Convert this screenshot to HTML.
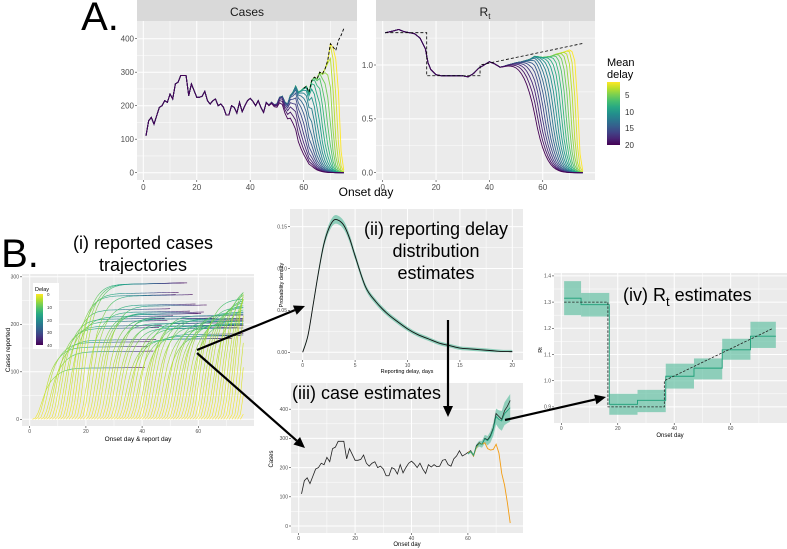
<!DOCTYPE html>
<html><head><meta charset="utf-8">
<style>
html,body{margin:0;padding:0;background:#fff;}
svg{display:block;font-family:"Liberation Sans",sans-serif;}
</style></head>
<body>
<svg id="fig" width="787" height="549" viewBox="0 0 787 549" xmlns="http://www.w3.org/2000/svg"></svg>
<script>
// ---------- data ----------
const days = [];
for (let i = 1; i <= 75; i++) days.push(i);
const trueCases = [110,155,165,145,170,195,200,215,210,235,220,265,270,290,290,290,230,265,245,225,225,228,243,215,205,215,220,200,205,195,172,172,200,195,178,210,182,200,215,222,213,200,215,195,180,210,202,210,203,205,225,228,210,205,230,240,258,240,245,252,258,240,275,285,280,300,295,310,335,385,375,365,395,410,430];
const meanDelays = [2,3,4,5,6,7,8,9,10,11,12,13,14,15,16,17,18,19,20];
const rtDays = [1,3,6,8,10,12,14,16,17,18,20,22,24,26,28,30,32,34,36,38,40,42,44,45,47,50,52,55,57,60,63,65,68,70,72,75];
const rtEst = [1.30,1.31,1.33,1.31,1.30,1.29,1.25,1.15,1.02,0.96,0.91,0.90,0.90,0.90,0.90,0.90,0.89,0.92,0.97,1.00,1.03,1.01,0.98,0.985,1.00,1.02,1.03,1.05,1.08,1.07,1.08,1.10,1.12,1.14,1.12,1.10];
const rtTrueDays = [1,16.5,16.5,36.5,36.5,75];
const rtTrue = [1.3,1.3,0.9,0.9,1.0,1.2];
const delayX = [0,0.5,1,1.5,2,2.5,3,3.5,4,4.5,5,6,7,8,9,10,11,12,13,14,15,16,17,18,19,20];
const delayPdf = [0,0.02,0.057,0.095,0.128,0.148,0.158,0.157,0.15,0.135,0.115,0.078,0.06,0.047,0.037,0.028,0.021,0.016,0.011,0.008,0.005,0.004,0.003,0.002,0.001,0.0008];
const orangeDays = [60,61,62,63,64,65,66,67,68,69,70,71,72,73,74,75];
const orangeCases = [252,255,240,268,283,280,285,265,260,262,280,250,180,140,80,10];
const estDays = [60,61,62,63,64,65,66,67,68,69,70,71,72,73,74,75];
const estMid = [248,255,242,272,282,280,298,292,305,330,375,365,360,385,395,405];
const estLo = [244,250,236,264,272,268,284,276,286,308,348,334,326,346,352,358];
const estHi = [252,260,248,280,292,292,312,308,324,352,402,396,394,424,438,452];
const stepStart = [1,7,17,27,37,47,57,67];
const stepEnd = [7,17,27,37,47,57,67,76];
const stepMid = [1.315,1.29,0.91,0.925,1.017,1.048,1.118,1.17];
const stepLo = [1.25,1.245,0.87,0.88,0.97,1.005,1.08,1.125];
const stepHi = [1.38,1.335,0.95,0.965,1.065,1.085,1.16,1.225];
const rtDashDays = [1,16.5,16.5,36.5,36.5,75];
const rtDashVals = [1.3,1.3,0.9,0.9,1.0,1.2];

// ---------- helpers ----------
const NS = "http://www.w3.org/2000/svg";
const svg = document.getElementById('fig');
function mk(tag, attrs, name, parent) {
  const e = document.createElementNS(NS, tag);
  for (const k in attrs) e.setAttribute(k, attrs[k]);
  
  
  (parent || svg).appendChild(e);
  return e;
}
function txt(x, y, s, size, name, opts) {
  opts = opts || {};
  const t = mk('text', {x: x, y: y, 'font-size': size, fill: opts.fill || '#000', 'text-anchor': opts.anchor || 'middle'}, name);
  if (opts.rot) t.setAttribute('transform', 'rotate(-90 ' + x + ' ' + y + ')');
  t.textContent = s;
  return t;
}
const VIR = [[68,1,84],[72,40,120],[62,74,137],[49,104,142],[38,130,142],[31,158,137],[53,183,121],[109,205,89],[180,222,44],[253,231,37]];
function vir(f) {
  f = Math.max(0, Math.min(1, f));
  const p = f * (VIR.length - 1), i = Math.min(VIR.length - 2, Math.floor(p)), r = p - i;
  const c = VIR[i].map((v, j) => Math.round(v + (VIR[i + 1][j] - v) * r));
  return 'rgb(' + c.join(',') + ')';
}
function Phi(z) { const t = 1 / (1 + 0.3275911 * Math.abs(z)); const y = 1 - (((((1.061405429 * t - 1.453152027) * t) + 1.421413741) * t - 0.284496736) * t + 0.254829592) * t * Math.exp(-z * z / 2); return z >= 0 ? 0.5 + y / 2 : 0.5 - y / 2; }
function F(x, d) { return Phi((x - 0.9 * d) / (0.2 * d + 0.5)); }
function panel(P, name) {
  mk('rect', {x: P.x0, y: P.y0, width: P.x1 - P.x0, height: P.y1 - P.y0, fill: '#EBEBEB'}, name + '-background');
  (P.xminor || []).forEach(v => mk('line', {x1: P.sx(v), x2: P.sx(v), y1: P.y0, y2: P.y1, stroke: '#fff', 'stroke-width': 0.5}, name + '-minor-gridline'));
  (P.yminor || []).forEach(v => mk('line', {y1: P.sy(v), y2: P.sy(v), x1: P.x0, x2: P.x1, stroke: '#fff', 'stroke-width': 0.5}, name + '-minor-gridline'));
  P.xt.forEach(v => mk('line', {x1: P.sx(v), x2: P.sx(v), y1: P.y0, y2: P.y1, stroke: '#fff', 'stroke-width': 1}, name + '-gridline'));
  P.yt.forEach(v => mk('line', {y1: P.sy(v), y2: P.sy(v), x1: P.x0, x2: P.x1, stroke: '#fff', 'stroke-width': 1}, name + '-gridline'));
  P.xt.forEach((v, i) => {
    mk('line', {x1: P.sx(v), x2: P.sx(v), y1: P.y1, y2: P.y1 + 2, stroke: '#333', 'stroke-width': 0.6}, name + '-x-tick');
    txt(P.sx(v), P.y1 + 2 + P.fs, P.xl[i], P.fs, name + '-x-tick-label', {fill: '#4d4d4d'});
  });
  P.yt.forEach((v, i) => {
    mk('line', {x1: P.x0 - 2, x2: P.x0, y1: P.sy(v), y2: P.sy(v), stroke: '#333', 'stroke-width': 0.6}, name + '-y-tick');
    txt(P.x0 - 3, P.sy(v) + P.fs * 0.35, P.yl[i], P.fs, name + '-y-tick-label', {fill: '#4d4d4d', anchor: 'end'});
  });
}
function pathD(xs, ys, sx, sy) { return xs.map((x, i) => (i ? 'L' : 'M') + sx(x).toFixed(2) + ',' + sy(ys[i]).toFixed(2)).join(''); }
function smoothD(xs, ys, sx, sy) {
  const p = xs.map((x, i) => [sx(x), sy(ys[i])]);
  let d = 'M' + p[0][0] + ',' + p[0][1];
  for (let i = 0; i < p.length - 1; i++) {
    const a = p[i - 1] || p[i], b = p[i], c = p[i + 1], e = p[i + 2] || c;
    d += 'C' + (b[0] + (c[0] - a[0]) / 6) + ',' + (b[1] + (c[1] - a[1]) / 6) + ' ' + (c[0] - (e[0] - b[0]) / 6) + ',' + (c[1] - (e[1] - b[1]) / 6) + ' ' + c[0] + ',' + c[1];
  }
  return d;
}
function interp(xs, ys, x) {
  if (x <= xs[0]) return ys[0];
  for (let i = 1; i < xs.length; i++) if (x <= xs[i]) return ys[i - 1] + (ys[i] - ys[i - 1]) * (x - xs[i - 1]) / (xs[i] - xs[i - 1]);
  return ys[ys.length - 1];
}

// ---------- A: Cases ----------
txt(100, 30, 'A.', 40, 'panel-a-label');
mk('rect', {x: 137, y: 0, width: 220, height: 21, fill: '#D9D9D9'}, 'cases-strip');
txt(247, 16, 'Cases', 12, 'cases-strip-title', {fill: '#1a1a1a'});
const PA = {x0: 137, x1: 357, y0: 21, y1: 180, sx: v => 143.3 + 2.673 * v, sy: v => 172.7 - 0.335 * v,
  xt: [0,20,40,60], xl: ['0','20','40','60'], yt: [0,100,200,300,400], yl: ['0','100','200','300','400'],
  xminor: [10,30,50,70], yminor: [50,150,250,350], fs: 8};
panel(PA, 'cases-a');
meanDelays.forEach(d => {
  const vals = days.map((t, i) => trueCases[i] * F(75 - t, d));
  mk('path', {d: pathD(days, vals, PA.sx, PA.sy), fill: 'none', stroke: vir((20 - d) / 18), 'stroke-width': 0.9}, 'cases-nowcast-line-delay-' + d);
});
const dIdx = days.indexOf(60);
mk('path', {d: pathD(days.slice(dIdx), trueCases.slice(dIdx), PA.sx, PA.sy), fill: 'none', stroke: '#000', 'stroke-width': 0.9, 'stroke-dasharray': '3,2'}, 'cases-true-dashed-line');

// ---------- A: Rt ----------
mk('rect', {x: 376, y: 0, width: 219, height: 21, fill: '#D9D9D9'}, 'rt-strip');
const rtT = txt(485, 16, 'R', 12, 'rt-strip-title', {fill: '#1a1a1a'});
const sub = document.createElementNS(NS, 'tspan'); sub.setAttribute('font-size', 8); sub.setAttribute('dy', 3); sub.textContent = 't'; rtT.appendChild(sub);
const PR = {x0: 376, x1: 595, y0: 21, y1: 180, sx: v => 382.7 + 2.667 * v, sy: v => 172.7 - 107.7 * v,
  xt: [0,20,40,60], xl: ['0','20','40','60'], yt: [0,0.5,1.0], yl: ['0.0','0.5','1.0'],
  xminor: [10,30,50,70], yminor: [0.25,0.75,1.25], fs: 8};
panel(PR, 'rt-a');
const rtDaily = days.map(t => interp(rtDays, rtEst, t));
meanDelays.forEach(d => {
  const vals = days.map((t, i) => rtDaily[i] * F(75 - t, d));
  mk('path', {d: pathD(days, vals, PR.sx, PR.sy), fill: 'none', stroke: vir((20 - d) / 18), 'stroke-width': 0.9}, 'rt-nowcast-line-delay-' + d);
});
mk('path', {d: pathD(rtTrueDays, rtTrue, PR.sx, PR.sy), fill: 'none', stroke: '#000', 'stroke-width': 0.8, 'stroke-dasharray': '3,2'}, 'rt-true-dashed-line');
txt(366, 196, 'Onset day', 12, 'a-x-axis-title');
// legend
txt(607, 66, 'Mean', 11, 'legend-title', {anchor: 'start'});
txt(607, 78, 'delay', 11, 'legend-title', {anchor: 'start'});
const gA = mk('defs', {}, 'defs');
const lg = mk('linearGradient', {id: 'vg', x1: 0, y1: 0, x2: 0, y2: 1}, 'gradient', gA);
for (let i = 0; i <= 10; i++) mk('stop', {offset: i / 10, 'stop-color': vir(1 - i / 10)}, 'gradient-stop', lg);
mk('rect', {x: 607, y: 82, width: 13, height: 63, fill: 'url(#vg)'}, 'legend-colorbar');
[[5,95],[10,112],[15,128],[20,145]].forEach(p => txt(625, p[1] + 3, String(p[0]), 8, 'legend-label', {anchor: 'start', fill: '#333'}));

// ---------- B(i) ----------
txt(20, 267, 'B.', 40, 'panel-b-label');
txt(143, 249, '(i) reported cases', 18, 'reported-title');
txt(143, 271, 'trajectories', 18, 'reported-title');
const P1 = {x0: 22, x1: 254, y0: 274, y1: 426, sx: v => 29.7 + 2.81 * v, sy: v => 419.3 - 0.475 * v,
  xt: [0,20,40,60], xl: ['0','20','40','60'], yt: [0,100,200,300], yl: ['0','100','200','300'],
  xminor: [10,30,50,70], yminor: [50,150,250], fs: 5};
panel(P1, 'reported');
const cum = [0];
for (let i = 1; i < delayX.length; i++) cum.push(cum[i - 1] + (delayPdf[i] + delayPdf[i - 1]) / 2 * (delayX[i] - delayX[i - 1]));
const tot = cum[cum.length - 1] * 1.02;
function G(k) { return k >= 20 ? Math.min(1, cum[cum.length - 1] / tot + (k - 20) * 0.0005) : interp(delayX, cum, k) / tot; }
days.forEach((t, i) => {
  for (let k = 0; k < 40; k++) {
    if (t + k + 1 > 76) break;
    mk('line', {x1: P1.sx(t + k).toFixed(1), y1: P1.sy(trueCases[i] * G(k)).toFixed(1), x2: P1.sx(t + k + 1).toFixed(1), y2: P1.sy(trueCases[i] * G(k + 1)).toFixed(1), stroke: vir(1 - k / 40), 'stroke-width': 0.6}, 'trajectory-segment');
  }
});
mk('rect', {x: 33, y: 283, width: 26, height: 66, fill: '#fff'}, 'delay-legend-box');
txt(35, 291, 'Delay', 5.5, 'delay-legend-title', {anchor: 'start'});
mk('rect', {x: 36, y: 294, width: 7, height: 51, fill: 'url(#vg)'}, 'delay-legend-colorbar');
[['0',294],['10',307],['20',320],['30',332],['40',345]].forEach(p => txt(47, p[1] + 2, p[0], 4.5, 'delay-legend-label', {anchor: 'start', fill: '#333'}));
txt(10, 350, 'Cases reported', 6.5, 'reported-y-axis-title', {rot: true});
txt(138, 441, 'Onset day & report day', 6.5, 'reported-x-axis-title');

// ---------- B(ii) ----------
const P2 = {x0: 290, x1: 523, y0: 209, y1: 360, sx: v => 302.7 + 10.48 * v, sy: v => 352.3 - 838 * v,
  xt: [0,5,10,15,20], xl: ['0','5','10','15','20'], yt: [0,0.05,0.10,0.15], yl: ['0.00','0.05','0.10','0.15'],
  xminor: [2.5,7.5,12.5,17.5], yminor: [0.025,0.075,0.125], fs: 5};
panel(P2, 'delay');
const ribU = delayPdf.map(v => v + 0.002 + v * 0.02), ribL = delayPdf.map(v => Math.max(0, v - 0.002 - v * 0.02));
mk('path', {d: smoothD(delayX, ribU, P2.sx, P2.sy) + 'L' + smoothD(delayX.slice().reverse(), ribL.slice().reverse(), P2.sx, P2.sy).slice(1) + 'Z', fill: '#66c2a5', opacity: 0.7}, 'delay-ribbon');
mk('path', {d: smoothD(delayX, delayPdf, P2.sx, P2.sy), fill: 'none', stroke: '#111', 'stroke-width': 0.9}, 'delay-pdf-line');
txt(436, 235, '(ii) reporting delay', 18, 'delay-title');
txt(436, 257, 'distribution', 18, 'delay-title');
txt(436, 279, 'estimates', 18, 'delay-title');
txt(283, 285, 'Probability density', 5.5, 'delay-y-axis-title', {rot: true});
txt(407, 373, 'Reporting delay, days', 5.5, 'delay-x-axis-title');

// ---------- B(iii) ----------
const P3 = {x0: 291, x1: 523, y0: 383, y1: 533, sx: v => 298.7 + 2.82 * v, sy: v => 526 - 0.292 * v,
  xt: [0,20,40,60], xl: ['0','20','40','60'], yt: [0,100,200,300,400], yl: ['0','100','200','300','400'],
  xminor: [10,30,50,70], yminor: [50,150,250,350], fs: 5};
panel(P3, 'estimates');
mk('path', {d: pathD(estDays, estHi, P3.sx, P3.sy) + 'L' + pathD(estDays.slice().reverse(), estLo.slice().reverse(), P3.sx, P3.sy).slice(1) + 'Z', fill: '#66c2a5', opacity: 0.7}, 'case-estimate-ribbon');
mk('path', {d: pathD(days, trueCases, P3.sx, P3.sy), fill: 'none', stroke: '#222', 'stroke-width': 0.8}, 'true-cases-line');
mk('path', {d: pathD(orangeDays, orangeCases, P3.sx, P3.sy), fill: 'none', stroke: '#f39c12', 'stroke-width': 0.9}, 'reported-cases-line');
mk('path', {d: pathD(estDays, estMid, P3.sx, P3.sy), fill: 'none', stroke: '#1b9e77', 'stroke-width': 0.8}, 'case-estimate-line');
txt(292, 399, '(iii) case estimates', 18, 'estimates-title', {anchor: 'start'});
txt(273, 459, 'Cases', 6, 'estimates-y-axis-title', {rot: true});
txt(407, 546, 'Onset day', 6, 'estimates-x-axis-title');

// ---------- B(iv) ----------
const P4 = {x0: 554, x1: 787, y0: 273, y1: 423, sx: v => 561.3 + 2.823 * v, sy: v => 380.7 - 262 * v + 262,
  xt: [0,20,40,60], xl: ['0','20','40','60'], yt: [0.9,1.0,1.1,1.2,1.3,1.4], yl: ['0.9','1.0','1.1','1.2','1.3','1.4'],
  xminor: [10,30,50,70], yminor: [0.95,1.05,1.15,1.25,1.35], fs: 5};
panel(P4, 'rt-estimates');
stepStart.forEach((s, i) => {
  mk('rect', {x: P4.sx(s), y: P4.sy(stepHi[i]), width: P4.sx(stepEnd[i]) - P4.sx(s), height: P4.sy(stepLo[i]) - P4.sy(stepHi[i]), fill: '#66c2a5', opacity: 0.7}, 'rt-band-step');
});
let sd = '';
stepStart.forEach((s, i) => { sd += (i ? 'L' : 'M') + P4.sx(s) + ',' + P4.sy(stepMid[i]) + 'L' + P4.sx(stepEnd[i]) + ',' + P4.sy(stepMid[i]); });
mk('path', {d: sd, fill: 'none', stroke: '#1b9e77', 'stroke-width': 0.9}, 'rt-estimate-step-line');
mk('path', {d: pathD(rtDashDays, rtDashVals, P4.sx, P4.sy), fill: 'none', stroke: '#222', 'stroke-width': 0.8, 'stroke-dasharray': '2.5,1.5'}, 'rt-true-dashed');
const t4 = txt(623, 301, '(iv) R', 18, 'rt-estimates-title', {anchor: 'start'});
const s4 = document.createElementNS(NS, 'tspan'); s4.setAttribute('dy', 5); s4.setAttribute('font-size', 13); s4.textContent = 't'; t4.appendChild(s4);
const s5 = document.createElementNS(NS, 'tspan'); s5.setAttribute('dy', -5); s5.textContent = ' estimates'; t4.appendChild(s5);
txt(542, 350, 'Rt', 5.5, 'rt-estimates-y-axis-title', {rot: true});
txt(670, 437, 'Onset day', 6, 'rt-estimates-x-axis-title');

// ---------- arrows ----------
function arrow(x1, y1, x2, y2, name) {
  const a = Math.atan2(y2 - y1, x2 - x1), L = 11, W = 5;
  const bx = x2 - L * Math.cos(a), by = y2 - L * Math.sin(a);
  mk('line', {x1: x1, y1: y1, x2: bx, y2: by, stroke: '#000', 'stroke-width': 2.2}, name + '-shaft');
  mk('polygon', {points: x2 + ',' + y2 + ' ' + (bx + W * Math.sin(a)) + ',' + (by - W * Math.cos(a)) + ' ' + (bx - W * Math.sin(a)) + ',' + (by + W * Math.cos(a)), fill: '#000'}, name + '-head');
}
arrow(197, 350, 305, 306, 'arrow-to-delay');
arrow(197, 353, 305, 448, 'arrow-to-estimates');
arrow(448, 320, 448, 417, 'arrow-delay-to-estimates');
arrow(505, 420, 606, 397, 'arrow-to-rt');
</script>
</body></html>
